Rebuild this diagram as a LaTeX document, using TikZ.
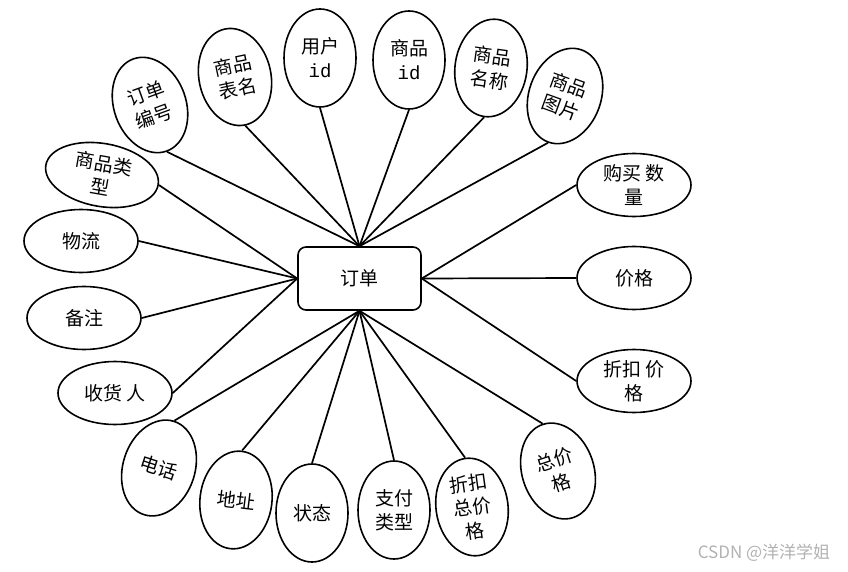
\documentclass[tikz,border=0pt]{standalone}
\usepackage{fontspec}
\setmainfont{Noto Sans CJK SC}
\setmonofont{Liberation Mono}
\usetikzlibrary{shapes.geometric}

\begin{document}
\begin{tikzpicture}[x=1pt, y=-1pt,
  font=\fontsize{19}{24}\selectfont,
  attr/.style={draw, ellipse, line width=1.6pt, inner sep=0pt, align=center},
  tall/.style={attr, minimum width=72pt, minimum height=98pt},
  wide/.style={attr, minimum width=114pt, minimum height=63pt},
  entity/.style={draw, rounded corners=8pt, line width=1.6pt,
                 minimum width=123pt, minimum height=63pt},
  link/.style={line width=1.7pt}]

\useasboundingbox (0,0) rectangle (848,572);

\node[entity] (order) at (359.5,278.5) {订单};

% top
\node[tall, rotate=20] (ordno) at (150,105) {订单\\编号};
\node[tall, rotate=12] (tblname) at (235,77) {商品\\表名};
\node[tall] (userid) at (320,58) {用户\\\texttt{id}};
\node[tall] (goodsid) at (409,60) {商品\\\texttt{id}};
\node[tall, rotate=-8] (goodsname) at (491,68) {商品\\名称};
\node[tall, rotate=-20] (goodsimg) at (565,96) {商品\\图片};

% right
\node[wide] (qty) at (634,185) {购买\,数\\量};
\node[wide] (price) at (634,278) {价格};
\node[wide] (discprice) at (634,381) {折扣\,价\\格};

% bottom
\node[tall, rotate=18] (total) at (558,471) {总价\\格};
\node[tall, rotate=8] (disctotal) at (472,507) {折扣\\总价\\格};
\node[tall] (paytype) at (394,510) {支付\\类型};
\node[tall] (status) at (312,513) {状态};
\node[tall, rotate=-7] (addr) at (236,500) {地址};
\node[tall, rotate=-18] (phone) at (159,468) {电话};

% left
\node[wide] (receiver) at (115,393) {收货\,人};
\node[wide] (remark) at (84,318) {备注};
\node[wide] (logistics) at (81,241) {物流};
\node[wide, rotate=-10] (goodstype) at (102,175) {商品类\\型};

\draw[link] (order.north) -- (ordno.south);
\draw[link] (order.north) -- (tblname.south);
\draw[link] (order.north) -- (userid.south);
\draw[link] (order.north) -- (goodsid.south);
\draw[link] (order.north) -- (goodsname.south);
\draw[link] (order.north) -- (goodsimg.south);
\draw[link] (order.east) -- (qty.west);
\draw[link] (order.east) -- (price.west);
\draw[link] (order.east) -- (discprice.west);
\draw[link] (order.south) -- (total.north);
\draw[link] (order.south) -- (disctotal.north);
\draw[link] (order.south) -- (paytype.north);
\draw[link] (order.south) -- (status.north);
\draw[link] (order.south) -- (addr.north);
\draw[link] (order.south) -- (phone.north);
\draw[link] (order.west) -- (receiver.east);
\draw[link] (order.west) -- (remark.east);
\draw[link] (order.west) -- (logistics.east);
\draw[link] (order.west) -- (goodstype.east);

\node[text=gray!60, font=\fontsize{17}{17}\selectfont] (mark) at (764,553) {CSDN @洋洋学姐};
\end{tikzpicture}
\end{document}
